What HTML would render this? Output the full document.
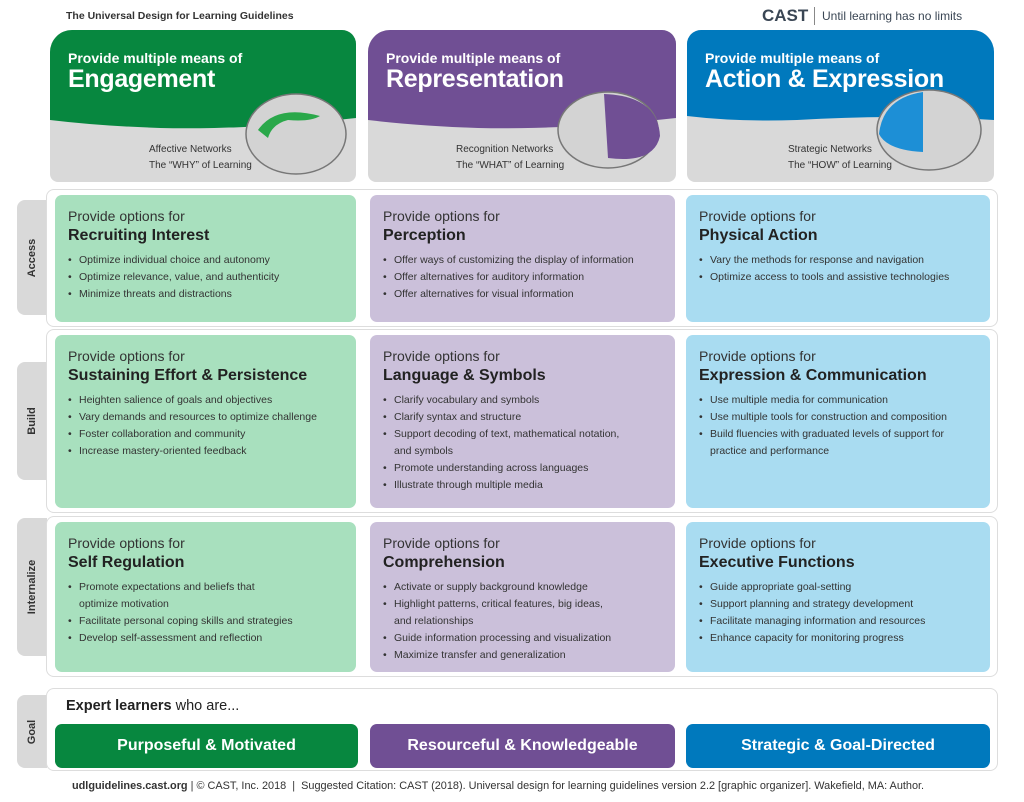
<!DOCTYPE html>
<html><head><meta charset="utf-8"><style>
*{margin:0;padding:0;box-sizing:border-box}
body{width:1024px;height:802px;background:#fff;font-family:"Liberation Sans","DejaVu Sans",sans-serif;color:#333;position:relative;overflow:hidden}
.a{position:absolute}
.hdr{position:absolute;top:30px;height:152px;border-radius:22px 14px 8px 8px;overflow:hidden;background:#d9d9d9}
.hdr svg{position:absolute;left:0;top:0}
.hdr .t1{position:absolute;left:18px;top:20px;color:#fff;font-size:14px;font-weight:bold}
.hdr .t2{position:absolute;left:18px;top:35px;color:#fff;font-size:25px;font-weight:bold;letter-spacing:-0.3px}
.hdr .net{position:absolute;top:112px;font-size:10px;line-height:16px;color:#333}
.row{position:absolute;left:46px;width:952px;border:1px solid #ddd;border-radius:8px;background:#fff}
.tab{position:absolute;left:17px;width:30px;background:#d9d9d9;border-radius:8px 0 0 8px}
.tab span{position:absolute;left:50%;top:50%;transform:translate(-50%,-50%) rotate(-90deg);font-size:11px;font-weight:bold;color:#333;white-space:nowrap}
.cell{position:absolute;border-radius:7px;padding:12px 13px}
.g{background:#a8e0be}.p{background:#cbc0da}.b{background:#a9dcf1}
.cell .po{font-size:14px;color:#333;line-height:18px}
.cell .tt{font-size:16px;font-weight:bold;color:#222;line-height:21px}
.cell ul{list-style:none;margin-top:6px}
.cell li{font-size:10.5px;line-height:17px;color:#333;padding-left:11px;position:relative}
.cell li:before{content:"•";position:absolute;left:0}
.goalb{position:absolute;top:724px;height:44px;border-radius:7px;color:#fff;font-weight:bold;font-size:16px;text-align:center;line-height:44px}
</style></head><body>
<div class="a" style="left:66px;top:10px;font-size:10.5px;font-weight:bold;color:#333">The Universal Design for Learning Guidelines</div>
<div class="a" style="left:762px;top:6px;font-size:17px;font-weight:bold;color:#3a4654">CAST</div>
<div class="a" style="left:814px;top:7px;width:1px;height:18px;background:#888"></div>
<div class="a" style="left:822px;top:9px;font-size:12px;color:#3a4654">Until learning has no limits</div>

<div class="hdr" style="left:50px;width:306px">
<svg width="306" height="152"><path d="M0 0H306V88Q200 100 110 98Q50 96 0 90Z" fill="#07873f"/>
<ellipse cx="246" cy="104" rx="50" ry="40" fill="#d3d3d3" stroke="#777" stroke-width="1.5"/>
<path d="M208 100Q226 74 270 86Q260 92 238 90Q222 94 218 108Z" fill="#2aa84a"/></svg>
<div class="t1">Provide multiple means of</div><div class="t2">Engagement</div>
<div class="net" style="left:99px">Affective Networks<br>The “WHY” of Learning</div></div>

<div class="hdr" style="left:368px;width:308px">
<svg width="308" height="152"><path d="M0 0H308V88Q200 100 110 98Q50 96 0 90Z" fill="#704f94"/>
<ellipse cx="240" cy="100" rx="50" ry="38" fill="#d3d3d3" stroke="#777" stroke-width="1.5"/>
<path d="M236 64Q290 66 292 106Q286 134 240 128Z" fill="#704f94"/></svg>
<div class="t1">Provide multiple means of</div><div class="t2">Representation</div>
<div class="net" style="left:88px">Recognition Networks<br>The “WHAT” of Learning</div></div>

<div class="hdr" style="left:687px;width:307px;border-radius:14px 22px 8px 8px">
<svg width="307" height="152"><path d="M0 0H307V90Q220 84 110 90Q50 92 0 86Z" fill="#0079bd"/>
<ellipse cx="242" cy="100" rx="52" ry="40" fill="#d3d3d3" stroke="#777" stroke-width="1.5"/>
<path d="M192 104Q196 68 236 62L236 122Q200 120 192 104Z" fill="#1d8fd6"/></svg>
<div class="t1">Provide multiple means of</div><div class="t2">Action &amp; Expression</div>
<div class="net" style="left:101px">Strategic Networks<br>The “HOW” of Learning</div></div>

<div class="tab" style="top:200px;height:115px"><span>Access</span></div>
<div class="row" style="top:189px;height:138px"></div>
<div class="tab" style="top:362px;height:118px"><span>Build</span></div>
<div class="row" style="top:329px;height:184px"></div>
<div class="tab" style="top:518px;height:138px"><span>Internalize</span></div>
<div class="row" style="top:516px;height:161px"></div>
<div class="tab" style="top:695px;height:73px"><span>Goal</span></div>
<div class="row" style="top:688px;height:83px"></div>

<div class="cell g" style="left:55px;top:195px;width:301px;height:127px"><div class="po">Provide options for</div><div class="tt">Recruiting Interest</div><ul><li>Optimize individual choice and autonomy</li><li>Optimize relevance, value, and authenticity</li><li>Minimize threats and distractions</li></ul></div>
<div class="cell p" style="left:370px;top:195px;width:305px;height:127px"><div class="po">Provide options for</div><div class="tt">Perception</div><ul><li>Offer ways of customizing the display of information</li><li>Offer alternatives for auditory information</li><li>Offer alternatives for visual information</li></ul></div>
<div class="cell b" style="left:686px;top:195px;width:304px;height:127px"><div class="po">Provide options for</div><div class="tt">Physical Action</div><ul><li>Vary the methods for response and navigation</li><li>Optimize access to tools and assistive technologies</li></ul></div>

<div class="cell g" style="left:55px;top:335px;width:301px;height:173px"><div class="po">Provide options for</div><div class="tt">Sustaining Effort &amp; Persistence</div><ul><li>Heighten salience of goals and objectives</li><li>Vary demands and resources to optimize challenge</li><li>Foster collaboration and community</li><li>Increase mastery-oriented feedback</li></ul></div>
<div class="cell p" style="left:370px;top:335px;width:305px;height:173px"><div class="po">Provide options for</div><div class="tt">Language &amp; Symbols</div><ul><li>Clarify vocabulary and symbols</li><li>Clarify syntax and structure</li><li>Support decoding of text, mathematical notation,<br>and symbols</li><li>Promote understanding across languages</li><li>Illustrate through multiple media</li></ul></div>
<div class="cell b" style="left:686px;top:335px;width:304px;height:173px"><div class="po">Provide options for</div><div class="tt">Expression &amp; Communication</div><ul><li>Use multiple media for communication</li><li>Use multiple tools for construction and composition</li><li>Build fluencies with graduated levels of support for<br>practice and performance</li></ul></div>

<div class="cell g" style="left:55px;top:522px;width:301px;height:150px"><div class="po">Provide options for</div><div class="tt">Self Regulation</div><ul><li>Promote expectations and beliefs that<br>optimize motivation</li><li>Facilitate personal coping skills and strategies</li><li>Develop self-assessment and reflection</li></ul></div>
<div class="cell p" style="left:370px;top:522px;width:305px;height:150px"><div class="po">Provide options for</div><div class="tt">Comprehension</div><ul><li>Activate or supply background knowledge</li><li>Highlight patterns, critical features, big ideas,<br>and relationships</li><li>Guide information processing and visualization</li><li>Maximize transfer and generalization</li></ul></div>
<div class="cell b" style="left:686px;top:522px;width:304px;height:150px"><div class="po">Provide options for</div><div class="tt">Executive Functions</div><ul><li>Guide appropriate goal-setting</li><li>Support planning and strategy development</li><li>Facilitate managing information and resources</li><li>Enhance capacity for monitoring progress</li></ul></div>

<div class="a" style="left:66px;top:698px;font-size:14.5px;color:#222"><b>Expert learners</b> who are...</div>
<div class="goalb" style="left:55px;width:303px;background:#07873f">Purposeful &amp; Motivated</div>
<div class="goalb" style="left:370px;width:305px;background:#704f94">Resourceful &amp; Knowledgeable</div>
<div class="goalb" style="left:686px;width:304px;background:#0079bd">Strategic &amp; Goal-Directed</div>

<div class="a" style="left:72px;top:780px;font-size:10.9px;color:#333;white-space:nowrap"><b>udlguidelines.cast.org</b> | © CAST, Inc. 2018 &nbsp;| &nbsp;Suggested Citation: CAST (2018). Universal design for learning guidelines version 2.2 [graphic organizer]. Wakefield, MA: Author.</div>
</body></html>
